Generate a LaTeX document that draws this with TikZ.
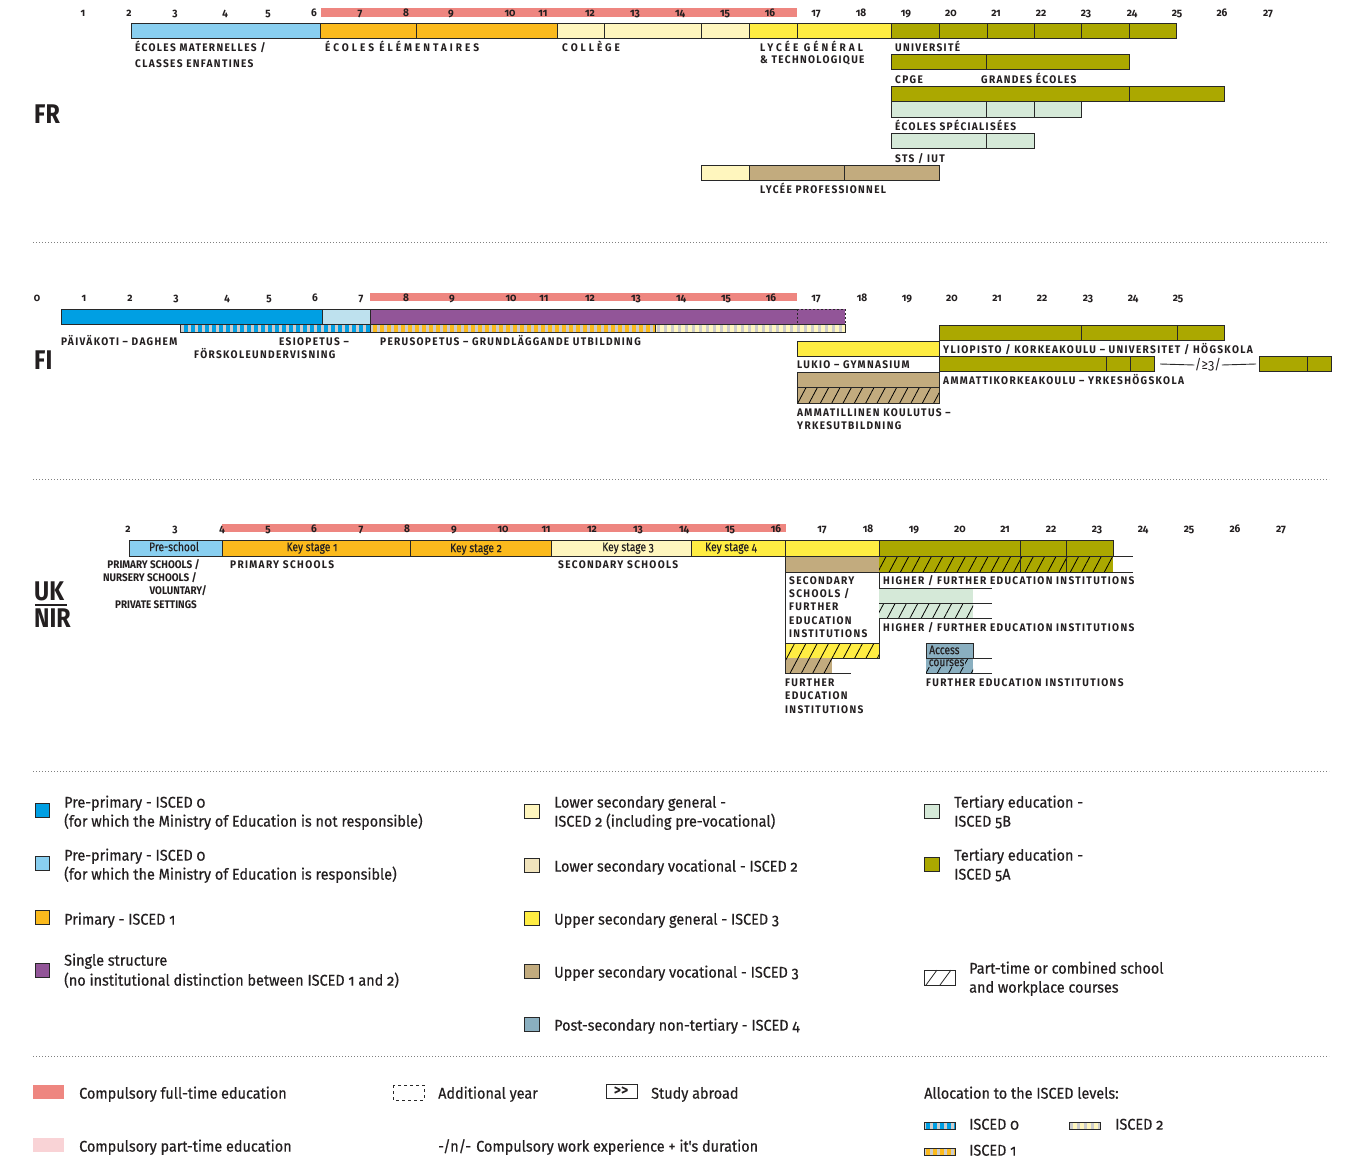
\documentclass[tikz,border=0pt]{standalone}
\usepackage{fontspec}
\setmainfont{Fira Sans}[Numbers=OldStyle, FakeStretch=0.92]
\newfontfamily\capfont{Fira Sans}[Numbers=OldStyle, FakeStretch=0.92, LetterSpace=12]
\newfontfamily\widecapfont{Fira Sans}[FakeStretch=0.92, LetterSpace=27]
\newfontfamily\tightfont{Fira Sans}[Numbers=OldStyle, FakeStretch=0.9]
\newfontfamily\legfont{Fira Sans}[Numbers=OldStyle, FakeStretch=0.93, FakeBold=0.4]
\newfontfamily\barfont{Fira Sans}[Numbers=OldStyle, FakeStretch=0.82, FakeBold=0.3]
\newfontfamily\bigfont{Fira Sans}[FakeStretch=0.86]
\usetikzlibrary{patterns.meta}
\definecolor{txt}{RGB}{35,31,32}
\definecolor{bord}{RGB}{40,40,40}
\definecolor{lblue}{RGB}{137,207,240}
\definecolor{dblue}{RGB}{0,159,227}
\definecolor{pblue}{RGB}{190,225,238}
\definecolor{orange}{RGB}{251,186,29}
\definecolor{lyellow}{RGB}{255,246,190}
\definecolor{yellow}{RGB}{255,237,67}
\definecolor{olive}{RGB}{171,168,0}
\definecolor{lgreen}{RGB}{213,233,216}
\definecolor{tan}{RGB}{194,171,126}
\definecolor{purple}{RGB}{146,85,152}
\definecolor{compred}{RGB}{238,134,128}
\definecolor{comppink}{RGB}{249,211,214}
\definecolor{bgray}{RGB}{138,175,192}
\definecolor{beige}{RGB}{240,227,188}
\definecolor{stripeg}{RGB}{205,205,205}
\newcommand{\seg}[5]{\filldraw[fill=#5, draw=bord, line width=1pt] (#1,#2) rectangle (#3,#4);}
\newcommand{\hatchfill}[4]{\fill[pattern={Lines[angle=62,distance=10pt,line width=0.8pt]}, pattern color=black] (#1,#2) rectangle (#3,#4);}
\newcommand{\stripes}[5]{\fill[#5] (#1,#2) rectangle (#3,#4);
  \fill[pattern={Lines[angle=90,distance=7pt,line width=3pt]}, pattern color=stripeg] (#1,#2) rectangle (#3,#4);
  \draw[bord, line width=0.8pt] (#1,#2) rectangle (#3,#4);}
\tikzset{
  lbl/.style={font=\capfont\bfseries\fontsize{11}{12}\selectfont, text=txt, anchor=mid west, inner sep=0pt, yshift=-1.5pt},
  wlbl/.style={lbl, font=\widecapfont\bfseries\fontsize{11}{12}\selectfont},
  tlbl/.style={lbl, font=\tightfont\bfseries\fontsize{11}{12}\selectfont},
  age/.style={font=\bfseries\fontsize{11}{12}\selectfont, text=txt, inner sep=0pt, anchor=mid, yshift=-1pt},
  leg/.style={font=\legfont\fontsize{15.5}{17}\selectfont, text=txt, anchor=mid west, inner sep=0pt, yshift=-3pt},
  country/.style={font=\bigfont\bfseries\fontsize{27}{28}\selectfont, text=txt, anchor=base west, inner sep=0pt},
  inbar/.style={font=\barfont\fontsize{12.5}{13}\selectfont, text=txt, inner sep=0pt, anchor=mid, yshift=-0.5pt},
  sep/.style={draw=gray, line width=1pt, dash pattern=on 1pt off 2pt},
  legbox/.style={draw=bord, line width=0.8pt},
  ext/.style={draw=bord, line width=1pt},
}
\begin{document}
\begin{tikzpicture}[x=1pt, y=-1pt]
\useasboundingbox[fill=white] (0,0) rectangle (1351,1158);

%================ FR =================
\node[country] (FR) at (34,124) {FR};
\fill[compred] (321,8) rectangle (797,17);
\foreach \a/\x in {1/83,2/129,3/175,4/225,5/268,6/314,7/360,8/406,9/451,10/510,11/543,12/590,13/635,14/680,15/725,16/770,17/816,18/861,19/906,20/951,21/996,22/1041,23/1086,24/1132,25/1177,26/1222,27/1268}
  {\node[age] (fra\a) at (\x,13) {\a};}
\seg{131}{24}{320}{39}{lblue}
\seg{320}{24}{416}{39}{orange}
\seg{416}{24}{557}{39}{orange}
\seg{557}{24}{604}{39}{lyellow}
\seg{604}{24}{701}{39}{lyellow}
\seg{701}{24}{749}{39}{lyellow}
\seg{749}{24}{797}{39}{yellow}
\seg{797}{24}{891}{39}{yellow}
\foreach \p/\q in {891/939,939/987,987/1034,1034/1081,1081/1129,1129/1176}
  {\seg{\p}{24}{\q}{39}{olive}}
\node[lbl] (frmat1) at (135,47) {ÉCOLES MATERNELLES /};
\node[lbl] (frmat2) at (135,63) {CLASSES ENFANTINES};
\node[wlbl] (frelem) at (325,47) {ÉCOLES ÉLÉMENTAIRES};
\node[wlbl] (frcol) at (562,47) {COLLÈGE};
\node[wlbl] (frlyc1) at (760,47) {LYCÉE GÉNÉRAL};
\node[lbl] (frlyc2) at (760,59) {\& TECHNOLOGIQUE};
\node[lbl] (fruni) at (895,47) {UNIVERSITÉ};
\seg{891}{55}{986}{70}{olive}
\seg{986}{55}{1129}{70}{olive}
\node[lbl] (frcpge) at (895,79) {CPGE};
\node[lbl] (frge) at (981,79) {GRANDES ÉCOLES};
\seg{891}{87}{1129}{102}{olive}
\seg{1129}{87}{1224}{102}{olive}
\seg{891}{102}{986}{118}{lgreen}
\seg{986}{102}{1034}{118}{lgreen}
\seg{1034}{102}{1081}{118}{lgreen}
\node[lbl] (frspec) at (895,126) {ÉCOLES SPÉCIALISÉES};
\seg{891}{134}{986}{149}{lgreen}
\seg{986}{134}{1034}{149}{lgreen}
\node[lbl] (frsts) at (895,158) {STS / IUT};
\seg{701}{166}{749}{181}{lyellow}
\seg{749}{166}{844}{181}{tan}
\seg{844}{166}{939}{181}{tan}
\node[lbl] (frpro) at (760,189) {LYCÉE PROFESSIONNEL};

\draw[sep] (33,243) -- (1329,243);

%================ FI =================
\node[country] (FI) at (34,369) {FI};
\fill[compred] (370,293) rectangle (797,301);
\foreach \a/\x in {0/37,1/84,2/130,3/176,4/227,5/269,6/315,7/361,8/406,9/452,10/511,11/544,12/590,13/636,14/681,15/726,16/771,17/816,18/862,19/907,20/952,21/997,22/1042,23/1088,24/1133,25/1178}
  {\node[age] (fia\a) at (\x,298) {\a};}
\seg{61}{309}{322}{324}{dblue}
\seg{322}{309}{370}{324}{pblue}
\seg{370}{309}{797}{324}{purple}
\filldraw[fill=purple, draw=bord, line width=1pt, dash pattern=on 2pt off 2pt] (797,309) rectangle (845,324);
\stripes{180}{324}{370}{332}{dblue}
\stripes{370}{324}{655}{332}{orange}
\stripes{655}{324}{845}{332}{lyellow}
\node[lbl] (fipaiv) at (61,341) {PÄIVÄKOTI – DAGHEM};
\node[lbl, anchor=mid east] (fiesi1) at (349,341) {ESIOPETUS –};
\node[lbl] (fiesi2) at (194,354) {FÖRSKOLEUNDERVISNING};
\node[lbl] (fiperus) at (380,341) {PERUSOPETUS – GRUNDLÄGGANDE UTBILDNING};
\seg{939}{325}{1081}{340}{olive}
\seg{1081}{325}{1177}{340}{olive}
\seg{1177}{325}{1224}{340}{olive}
\node[lbl] (fiyli) at (943,349) {YLIOPISTO / KORKEAKOULU – UNIVERSITET / HÖGSKOLA};
\seg{797}{341}{939}{356}{yellow}
\node[lbl] (filuk) at (797,364) {LUKIO – GYMNASIUM};
\seg{939}{356}{1106}{371}{olive}
\seg{1106}{356}{1130}{371}{olive}
\seg{1130}{356}{1154}{371}{olive}
\coordinate (fiwl) at (1160,364);
\coordinate (fiwr) at (1256,364);
\node[font=\fontsize{14}{15}\selectfont, text=txt, fill=white, inner sep=0.5pt] (fiwork) at (1208,365) {/≥3/};
\draw[bord, line width=0.9pt] (fiwl) -- (fiwork.west) (fiwork.east) -- (fiwr);
\seg{1259}{356}{1307}{371}{olive}
\seg{1307}{356}{1331}{371}{olive}
\node[lbl] (fiamk) at (943,380) {AMMATTIKORKEAKOULU – YRKESHÖGSKOLA};
\seg{797}{372}{939}{387}{tan}
\fill[tan] (797,387) rectangle (939,403);
\hatchfill{797}{387}{939}{403}
\draw[bord, line width=1pt] (797,387) rectangle (939,403);
\node[lbl] (fiamm1) at (797,412) {AMMATILLINEN KOULUTUS –};
\node[lbl] (fiamm2) at (797,425) {YRKESUTBILDNING};

\draw[sep] (33,479) -- (1329,479);

%================ UK =================
\node[country] (UK) at (34,600) {UK};
\draw[txt, line width=1.2pt] (35,605) -- (67,605);
\node[country] (NIR) at (34,627) {NIR};
\fill[compred] (222,524) rectangle (786,532);
\foreach \a/\x in {2/128,3/175,4/222,5/268,6/314,7/361,8/407,9/454,10/503,11/546,12/592,13/638,14/684,15/730,16/776,17/822,18/868,19/914,20/960,21/1005,22/1051,23/1097,24/1143,25/1189,26/1235,27/1281}
  {\node[age] (uka\a) at (\x,529) {\a};}
\seg{129}{540}{222}{556}{lblue}
\seg{222}{540}{410}{556}{orange}
\seg{410}{540}{551}{556}{orange}
\seg{551}{540}{691}{556}{lyellow}
\seg{691}{540}{785}{556}{yellow}
\seg{785}{540}{879}{556}{yellow}
\seg{879}{540}{1020}{556}{olive}
\seg{1020}{540}{1066}{556}{olive}
\seg{1066}{540}{1113}{556}{olive}
\node[inbar] (ukpre) at (174,548) {Pre-school};
\node[inbar] (ukks1) at (312,548) {Key stage 1};
\node[inbar] (ukks2) at (476,549) {Key stage 2};
\node[inbar] (ukks3) at (628,548) {Key stage 3};
\node[inbar, anchor=mid west] (ukks4) at (705,548) {Key stage 4};
% row 2
\seg{785}{556}{879}{572}{tan}
\fill[olive] (879,556) rectangle (1113,572);
\hatchfill{879}{556}{1113}{572}
\draw[ext] (1020,556) -- (1020,572) (1066,556) -- (1066,572);
\draw[ext] (879,556) -- (1133,556) (879,572) -- (1133,572);
\draw[ext] (785,572) rectangle (879,643);
\node[lbl] (uksec1) at (789,580) {SECONDARY};
\node[lbl] (uksec2) at (789,593) {SCHOOLS /};
\node[lbl] (uksec3) at (789,606) {FURTHER};
\node[lbl] (uksec4) at (789,620) {EDUCATION};
\node[lbl] (uksec5) at (789,633) {INSTITUTIONS};
\node[lbl] (ukhfe1) at (883,580) {HIGHER / FURTHER EDUCATION INSTITUTIONS};
\fill[lgreen] (879,588) rectangle (973,618);
\hatchfill{879}{603}{973}{618}
\draw[ext] (879,588) -- (992,588) (879,603) -- (992,603) (879,618) -- (992,618);
\node[lbl] (ukhfe2) at (883,627) {HIGHER / FURTHER EDUCATION INSTITUTIONS};
\fill[yellow] (785,643) rectangle (879,658);
\hatchfill{785}{643}{879}{658}
\draw[ext] (785,643) rectangle (879,658);
\fill[tan] (785,658) rectangle (832,673);
\hatchfill{785}{658}{832}{673}
\draw[ext] (785,658) -- (785,673) -- (851,673);
\fill[bgray] (926,643) rectangle (973,673);
\hatchfill{926}{658}{973}{673}
\draw[ext] (926,643) rectangle (973,658);
\draw[ext] (973,658) -- (992,658) (926,673) -- (992,673);
\node[inbar, anchor=mid west] (ukacc1) at (929,651) {Access};
\node[inbar, anchor=mid west, fill=bgray, inner sep=0.5pt] (ukacc2) at (928,663) {courses};
\node[lbl] (ukfei) at (926,682) {FURTHER EDUCATION INSTITUTIONS};
\node[lbl] (ukfe1) at (785,682) {FURTHER};
\node[lbl] (ukfe2) at (785,695) {EDUCATION};
\node[lbl] (ukfe3) at (785,709) {INSTITUTIONS};
\node[tlbl, anchor=mid east] (ukps1) at (200,564) {PRIMARY SCHOOLS /};
\node[tlbl, anchor=mid east] (ukps2) at (197,577) {NURSERY SCHOOLS /};
\node[tlbl, anchor=mid east] (ukps3) at (207,590) {VOLUNTARY/};
\node[tlbl, anchor=mid east] (ukps4) at (197,604) {PRIVATE SETTINGS};
\node[lbl] (ukprim) at (230,564) {PRIMARY SCHOOLS};
\node[lbl] (uksecs) at (558,564) {SECONDARY SCHOOLS};

\draw[sep] (33,771) -- (1329,771);

%================ Legend =================
\filldraw[legbox, fill=dblue] (35,803) rectangle (49,817);
\node[leg] (l1a) at (64,802) {Pre-primary - ISCED 0};
\node[leg] (l1b) at (64,821) {(for which the Ministry of Education is not responsible)};
\filldraw[legbox, fill=lblue] (35,856) rectangle (49,870);
\node[leg] (l2a) at (64,855) {Pre-primary - ISCED 0};
\node[leg] (l2b) at (64,874) {(for which the Ministry of Education is responsible)};
\filldraw[legbox, fill=orange] (35,910) rectangle (49,924);
\node[leg] (l3) at (64,919) {Primary - ISCED 1};
\filldraw[legbox, fill=purple] (35,963) rectangle (49,977);
\node[leg] (l4a) at (64,960) {Single structure};
\node[leg] (l4b) at (64,980) {(no institutional distinction between ISCED 1 and 2)};

\filldraw[legbox, fill=lyellow] (524,804) rectangle (539,818);
\node[leg] (l5a) at (554,802) {Lower secondary general -};
\node[leg] (l5b) at (554,821) {ISCED 2 (including pre-vocational)};
\filldraw[legbox, fill=beige] (524,858) rectangle (539,872);
\node[leg] (l6) at (554,866) {Lower secondary vocational - ISCED 2};
\filldraw[legbox, fill=yellow] (524,911) rectangle (539,925);
\node[leg] (l7) at (554,919) {Upper secondary general - ISCED 3};
\filldraw[legbox, fill=tan] (524,964) rectangle (539,978);
\node[leg] (l8) at (554,972) {Upper secondary vocational - ISCED 3};
\filldraw[legbox, fill=bgray] (524,1017) rectangle (539,1031);
\node[leg] (l9) at (554,1025) {Post-secondary non-tertiary - ISCED 4};

\filldraw[legbox, fill=lgreen] (924,804) rectangle (939,818);
\node[leg] (l10a) at (954,802) {Tertiary education -};
\node[leg] (l10b) at (954,821) {ISCED 5B};
\filldraw[legbox, fill=olive] (924,857) rectangle (939,871);
\node[leg] (l11a) at (954,855) {Tertiary education -};
\node[leg] (l11b) at (954,874) {ISCED 5A};
\draw[legbox] (924,970) rectangle (955,985);
\draw[legbox] (926,985) -- (937,970) (940,985) -- (951,970);
\node[leg] (l12a) at (969,968) {Part-time or combined school};
\node[leg] (l12b) at (969,987) {and workplace courses};

\draw[sep] (33,1056) -- (1329,1056);

\fill[compred] (33,1085) rectangle (64,1099);
\node[leg] (b1) at (79,1093) {Compulsory full-time education};
\fill[comppink] (33,1138) rectangle (64,1152);
\node[leg] (b2) at (79,1146) {Compulsory part-time education};
\draw[bord, line width=0.8pt, dash pattern=on 3pt off 3pt] (393,1085) rectangle (424,1100);
\node[leg] (b3) at (438,1093) {Additional year};
\draw[bord, line width=0.8pt] (606,1084) rectangle (637,1098);
\node[font=\bfseries\fontsize{15}{16}\selectfont, text=txt, inner sep=0pt] (b4s) at (621,1091) {>{}>};
\node[leg] (b4) at (651,1093) {Study abroad};
\node[leg] (b5s) at (438,1146) {-/n/-};
\node[leg] (b5) at (476,1146) {Compulsory work experience + it's duration};
\node[leg] (b6) at (924,1093) {Allocation to the ISCED levels:};
\stripes{924}{1122}{955}{1129}{dblue}
\node[leg] (b7) at (969,1124) {ISCED 0};
\stripes{1069}{1122}{1100}{1129}{lyellow}
\node[leg] (b8) at (1115,1124) {ISCED 2};
\stripes{924}{1148}{955}{1155}{orange}
\node[leg] (b9) at (969,1150) {ISCED 1};
\end{tikzpicture}
\end{document}
